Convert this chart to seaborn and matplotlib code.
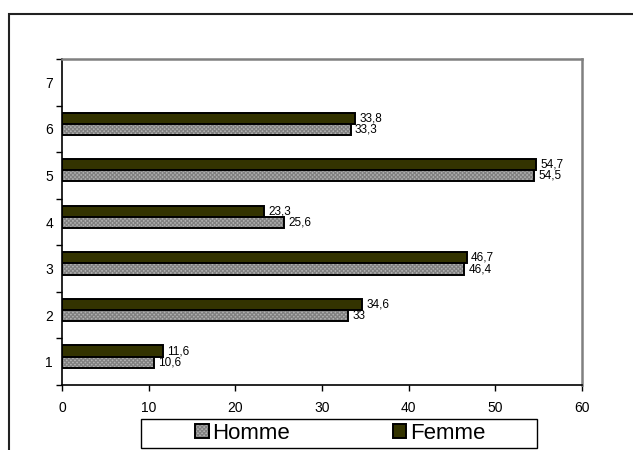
import matplotlib
matplotlib.use("Agg")
import matplotlib.pyplot as plt
from matplotlib.colors import to_rgba
from matplotlib.patches import Patch, Rectangle
from matplotlib.ticker import FixedLocator
import numpy as np
import pandas as pd
import seaborn as sns

# Data
categories = ["1", "2", "3", "4", "5", "6"]
homme = [10.6, 33, 46.4, 25.6, 54.5, 33.3]
femme = [11.6, 34.6, 46.7, 23.3, 54.7, 33.8]
axis_levels = ["7", "6", "5", "4", "3", "2", "1"]
series_names = ["Femme", "Homme"]

df = pd.DataFrame({
    "cat": categories * 2,
    "valeur": femme + homme,
    "sexe": ["Femme"] * len(categories) + ["Homme"] * len(categories),
})

sns.set_style("white")
plt.rcParams["font.family"] = ["Liberation Sans", "DejaVu Sans"]
plt.rcParams["text.color"] = "black"
plt.rcParams["xtick.color"] = "black"
plt.rcParams["ytick.color"] = "black"
plt.rcParams["axes.labelcolor"] = "black"
plt.rcParams["hatch.linewidth"] = 0.9

COL_F = "#333300"
COL_H = "#b2b2b2"
HATCH_COL = "#808080"
HATCH = "xxxxxxxx"


def set_hatch_colour(patch, colour):
    if hasattr(patch, "set_hatchcolor"):
        patch.set_hatchcolor(colour)
    else:
        patch._hatch_color = to_rgba(colour)
    patch.stale = True


fig = plt.figure(figsize=(6.33, 4.5), dpi=100)
ax = fig.add_axes([62 / 633, 1 - 385 / 450, 520 / 633, 326 / 450])

sns.barplot(
    data=df, x="valeur", y="cat", hue="sexe",
    order=axis_levels, hue_order=series_names,
    orient="h", width=0.48, dodge=True,
    palette={"Femme": COL_F, "Homme": COL_H},
    edgecolor="black", linewidth=1.4, saturation=1,
    legend=False, ax=ax, errorbar=None,
)

# Checkered fill for the Homme series
for bar in ax.containers[1]:
    bar.set_hatch(HATCH)
    set_hatch_colour(bar, HATCH_COL)

# Value labels with decimal commas
for cont in ax.containers:
    labs = []
    for bar in cont:
        w = bar.get_width()
        labs.append("" if np.isnan(w) else f"{w:g}".replace(".", ","))
    ax.bar_label(cont, labels=labs, padding=3, fontsize=8.5)

# Category axis: labels centred per level, tick marks on level boundaries
shift = 0.11
n = len(axis_levels)
ax.set_ylim(n - 0.5 + shift, -0.5 + shift)
ax.yaxis.set_major_locator(FixedLocator(np.arange(n) + shift))
ax.set_yticklabels(axis_levels)
ax.yaxis.set_minor_locator(FixedLocator(np.arange(n + 1) - 0.5 + shift))
ax.tick_params(axis="y", which="major", length=0, pad=6.5, labelsize=10)
ax.tick_params(axis="y", which="minor", length=4, width=1, direction="out",
               color="black", left=True)

ax.set_xlim(0, 60)
ax.set_xticks(np.arange(0, 61, 10))
ax.tick_params(axis="x", length=4, width=1, direction="out", color="black",
               bottom=True, pad=7.5, labelsize=10)
ax.set_xlabel("")
ax.set_ylabel("")

for side in ("left", "bottom"):
    ax.spines[side].set_color("black")
    ax.spines[side].set_linewidth(1.2)
for side in ("top", "right"):
    ax.spines[side].set_color("#808080")
    ax.spines[side].set_linewidth(1.8)
    ax.spines[side].set_visible(True)

# Legend: framed box below the axis
leg_box = (141 / 633, 2 / 450, 396 / 633, 29 / 450)
fig.add_artist(Rectangle(leg_box[:2], leg_box[2], leg_box[3],
                         transform=fig.transFigure, facecolor="white",
                         edgecolor="black", linewidth=1.0, zorder=2))
h_patch = Patch(facecolor=COL_H, edgecolor="black", hatch=HATCH, linewidth=1.4)
set_hatch_colour(h_patch, HATCH_COL)
f_patch = Patch(facecolor=COL_F, edgecolor="black", linewidth=1.4)
leg = fig.legend(
    [h_patch, f_patch], ["Homme", "Femme"], ncol=2,
    loc="center", bbox_to_anchor=(leg_box[0] + leg_box[2] / 2 + 0.002,
                                  leg_box[1] + leg_box[3] / 2),
    fontsize=16, frameon=False,
    handlelength=0.62, handleheight=0.62, handletextpad=0.15,
    columnspacing=4.6, borderpad=0, borderaxespad=0,
)
leg.set_zorder(3)
for h in leg.legend_handles:
    if h.get_hatch():
        set_hatch_colour(h, HATCH_COL)

# Outer frame of the chart area
fig.add_artist(Rectangle((9 / 633, -0.05), 1.1, 1 - 14 / 450 + 0.05,
                         transform=fig.transFigure, fill=False,
                         edgecolor="#222222", linewidth=1.5))

fig.savefig("out.png", dpi=100)
